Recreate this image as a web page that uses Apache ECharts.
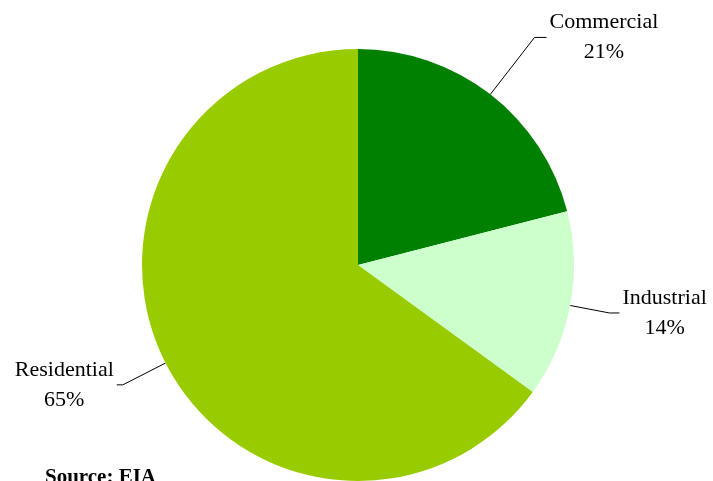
<!DOCTYPE html>
<html>
<head>
    <meta charset="utf-8">
    <title>ECharts</title>
    <script src="https://cdn.jsdelivr.net/npm/echarts@6/dist/echarts.min.js"></script>
    <style type="text/css">
    html, body { margin: 0; padding: 0; background: #fff; }
    </style>
</head>
<body>
    <div id="main" style="width: 713px;height:481px;"></div>
    <script type="text/javascript">
        // 扇区名称与占比
        var sectors = ['Commercial', 'Industrial', 'Residential'];
        var shares = [21, 14, 65];
        var colors = ['#008000', '#CCFFCC', '#99CC00'];
        // 每个标签引线的长度
        var lineLen1 = [72, 40, 48];
        var lineLen2 = [12, 10, 6];

        var pieData = sectors.map(function (name, i) {
            return {
                name: name,
                value: shares[i],
                itemStyle: { color: colors[i] },
                labelLine: { length: lineLen1[i], length2: lineLen2[i] }
            };
        });

        var myChart = echarts.init(document.getElementById('main'));
        var option = {
            animation: false,
            backgroundColor: '#fff',
            graphic: [{
                type: 'text',
                left: 45,
                top: 467,
                style: {
                    text: 'Source: EIA',
                    font: 'bold 21px "Liberation Serif"',
                    fill: '#000'
                }
            }],
            series: [{
                type: 'pie',
                center: [358, 265],
                radius: 216,
                startAngle: 90,
                clockwise: true,
                avoidLabelOverlap: false,
                data: pieData,
                label: {
                    show: true,
                    position: 'outside',
                    formatter: '{b}\n{c}%',
                    fontFamily: 'Liberation Serif',
                    fontSize: 22,
                    lineHeight: 30,
                    color: '#000'
                },
                labelLine: {
                    show: true,
                    lineStyle: { color: '#000', width: 1 }
                },
                labelLayout: function (params) {
                    var p = params.labelLinePoints;
                    if (!p) return {};
                    var end = p[2];
                    var dir = end[0] >= p[1][0] ? 1 : -1;
                    return {
                        x: end[0] + dir * (params.labelRect.width / 2 + 3),
                        y: end[1],
                        align: 'center',
                        verticalAlign: 'middle',
                        labelLinePoints: p
                    };
                },
                emphasis: { disabled: true }
            }]
        };
        myChart.setOption(option);
    </script>
</body>
</html>
